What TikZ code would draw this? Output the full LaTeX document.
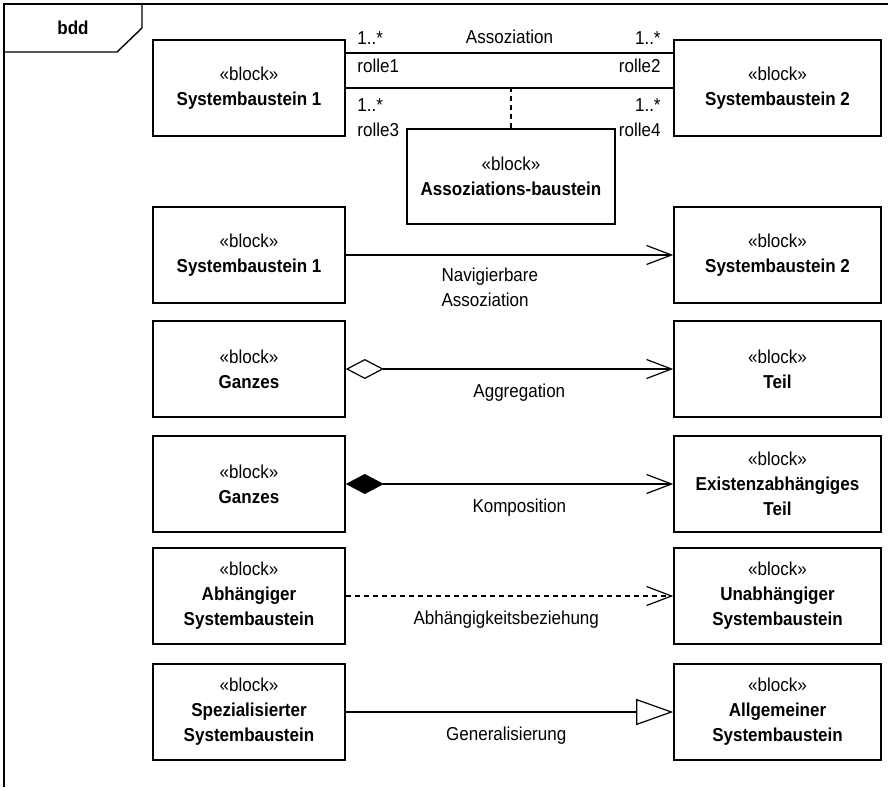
\documentclass[tikz,border=0pt]{standalone}
\usepackage{fontspec}
\setmainfont[FakeStretch=0.91]{Liberation Sans}
\usetikzlibrary{arrows.meta,positioning}

\begin{document}
\begin{tikzpicture}[x=1pt,y=-1pt,
		every node/.style={font=\fontsize{18.7}{25}\selectfont},
		block/.style={draw,line width=1.6pt,minimum height=96pt,align=center,inner sep=0pt},
		lblock/.style={block,minimum width=192pt},
		rblock/.style={block,minimum width=207pt},
		con/.style={line width=1.2pt},
		lbl/.style={inner sep=0pt,align=left},
		navarrow/.style={-{Straight Barb[length=25pt,width=19pt]}},
		dashes/.style={dash pattern=on 5pt off 4pt}]
			\useasboundingbox (0,0) rectangle (888,787);
			% frame
			\draw[line width=1.4pt] (4,787) -- (4,4) -- (888,4);
			\draw[line width=1.4pt] (4,52) -- (117,52) -- (142,28) -- (142,4);
			\node (bdd) at (73,28) {\textbf{bdd}};
			% Assoziation
			\node[lblock] (sb1) at (249,88) {«block»\\\textbf{Systembaustein 1}};
			\node[rblock] (sb2) at (777.5,88) {«block»\\\textbf{Systembaustein 2}};
			\node[block,minimum width=208pt,minimum height=95pt] (ab) at (511,176.5) {«block»\\\textbf{Assoziations-baustein}};
			\draw[con] ([yshift=35pt]sb1.east) -- node[lbl,above=9pt] {Assoziation}
				node[lbl,pos=0,anchor=south west,xshift=11pt,yshift=8pt] {1..*}
				node[lbl,pos=0,anchor=north west,xshift=11pt,yshift=-5pt] {rolle1}
				node[lbl,pos=1,anchor=south east,xshift=-12pt,yshift=8pt] {1..*}
				node[lbl,pos=1,anchor=north east,xshift=-12pt,yshift=-5pt] {rolle2} ([yshift=35pt]sb2.west);
			\draw[con] (sb1.east) --
				node[lbl,pos=0,anchor=north west,xshift=11pt,yshift=-10pt] {1..*\\rolle3}
				node[lbl,pos=1,anchor=north east,xshift=-12pt,yshift=-10pt,align=right] {1..*\\rolle4} (sb2.west);
			\draw[con,dashes] (ab.north) -- (ab.north |- sb1.east);
			% Navigierbare Assoziation
			\node[lblock] (sb1n) at (249,255) {«block»\\\textbf{Systembaustein 1}};
			\node[rblock] (sb2n) at (777.5,255) {«block»\\\textbf{Systembaustein 2}};
			\draw[con,navarrow] (sb1n) -- node[lbl,below=12pt,pos=0.44] {Navigierbare\\Assoziation} (sb2n);
			% Aggregation
			\node[lblock] (gz1) at (249,369) {«block»\\\textbf{Ganzes}};
			\node[rblock] (teil) at (777.5,369) {«block»\\\textbf{Teil}};
			\draw[con,{Diamond[open,length=38pt,width=20pt]}-{Straight Barb[length=25pt,width=19pt]}] (gz1) -- node[lbl,below=14pt,pos=0.53] {Aggregation} (teil);
			% Komposition
			\node[lblock] (gz2) at (249,484) {«block»\\\textbf{Ganzes}};
			\node[rblock] (eteil) at (777.5,484) {«block»\\\textbf{Existenzabhängiges}\\\textbf{Teil}};
			\draw[con,{Diamond[length=38pt,width=20pt]}-{Straight Barb[length=25pt,width=19pt]}] (gz2) -- node[lbl,below=14pt,pos=0.53] {Komposition} (eteil);
			% Abhaengigkeit
			\node[lblock] (absb) at (249,596) {«block»\\\textbf{Abhängiger}\\\textbf{Systembaustein}};
			\node[rblock] (unsb) at (777.5,596) {«block»\\\textbf{Unabhängiger}\\\textbf{Systembaustein}};
			\draw[con,dashes,navarrow] (absb) -- node[lbl,below=14pt,pos=0.49] {Abhängigkeitsbeziehung} (unsb);
			% Generalisierung
			\node[lblock] (spsb) at (249,712) {«block»\\\textbf{Spezialisierter}\\\textbf{Systembaustein}};
			\node[rblock] (alsb) at (777.5,712) {«block»\\\textbf{Allgemeiner}\\\textbf{Systembaustein}};
			\draw[con,-{Triangle[open,length=37pt,width=26pt]}] (spsb) -- node[lbl,below=14pt,pos=0.49] {Generalisierung} (alsb);
		\end{tikzpicture}
\end{document}
